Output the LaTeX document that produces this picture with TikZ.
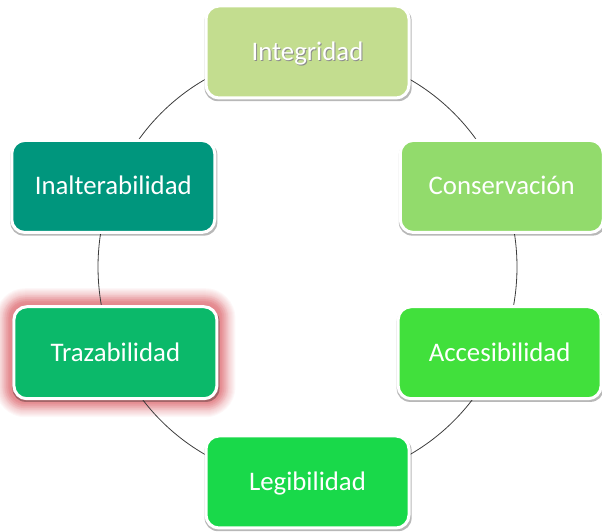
\documentclass[tikz,border=0pt]{standalone}
\usepackage{fontspec}
\setmainfont{Carlito}
\usetikzlibrary{shadows}
\definecolor{cInt}{RGB}{195,221,143}
\definecolor{cCon}{RGB}{146,219,108}
\definecolor{cAcc}{RGB}{65,224,60}
\definecolor{cLeg}{RGB}{25,217,74}
\definecolor{cTra}{RGB}{11,185,106}
\definecolor{cIna}{RGB}{0,150,125}
\definecolor{cGlow}{RGB}{215,80,88}
\definecolor{cLine}{RGB}{60,60,60}
\pgfdeclarelayer{glowlayer}
\pgfdeclarelayer{bglayer}
\pgfsetlayers{glowlayer,bglayer,main}
\begin{document}
\begin{tikzpicture}[x=1pt,y=1pt,
  box/.style={rounded corners=13pt, draw=white, line width=3pt,
    minimum width=203pt, minimum height=92pt, text=white,
    font=\fontsize{26.8}{30}\selectfont, text height=17pt, text depth=0pt,
    inner sep=0pt,
    drop shadow={shadow xshift=0.6pt, shadow yshift=-2.2pt, shadow scale=1.02, opacity=0.28, fill=black}},
  conn/.style={draw=cLine, line width=0.8pt}]
\useasboundingbox (0,0) rectangle (602,532);
\coordinate (c) at (307.5,265);
\node[box, fill=cInt] (int) at ([shift={(90:209.5pt and 215pt)}]c)
  {\makebox[0pt][l]{\hspace{1pt}\raisebox{-1.5pt}{\textcolor{black!45}{Integridad}}}Integridad};
\node[box, fill=cCon] (con) at ([shift={(22:209.5pt and 215pt)}]c) {Conservación};
\node[box, fill=cAcc] (acc) at ([shift={(-23.5:209.5pt and 215pt)}]c) {Accesibilidad};
\node[box, fill=cLeg] (leg) at ([shift={(-90:209.5pt and 215pt)}]c) {Legibilidad};
\node[box, fill=cTra] (tra) at ([shift={(-156.5:209.5pt and 215pt)}]c) {Trazabilidad};
\node[box, fill=cIna] (ina) at ([shift={(158:209.5pt and 215pt)}]c) {Inalterabilidad};
\begin{pgfonlayer}{bglayer}
\draw[conn] (int.center) arc[start angle=90, end angle=22, x radius=209.5pt, y radius=215pt];
\draw[conn] (con.center) arc[start angle=22, end angle=-23.5, x radius=209.5pt, y radius=215pt];
\draw[conn] (acc.center) arc[start angle=-23.5, end angle=-90, x radius=209.5pt, y radius=215pt];
\draw[conn] (leg.center) arc[start angle=-90, end angle=-156.5, x radius=209.5pt, y radius=215pt];
\draw[conn] (tra.center) arc[start angle=-156.5, end angle=-202, x radius=209.5pt, y radius=215pt];
\draw[conn] (ina.center) arc[start angle=158, end angle=90, x radius=209.5pt, y radius=215pt];
\end{pgfonlayer}
\begin{pgfonlayer}{glowlayer}
\foreach \i/\op in {4/0.12,6/0.1,8/0.08,10/0.06} {
  \pgfmathsetmacro{\rr}{13+\i}
  \fill[cGlow, opacity=\op, rounded corners=\rr pt]
    ([shift={(-\i pt,-\i pt)}]tra.south west) rectangle ([shift={(\i pt,\i pt)}]tra.north east);
}
\foreach \i in {1,...,17} {
  \pgfmathsetmacro{\rr}{13+\i}
  \fill[cGlow, opacity=0.045, rounded corners=\rr pt]
    ([shift={(-\i pt,-\i pt)}]tra.south west) rectangle ([shift={(\i pt,\i pt)}]tra.north east);
}
\end{pgfonlayer}
\end{tikzpicture}
\end{document}
